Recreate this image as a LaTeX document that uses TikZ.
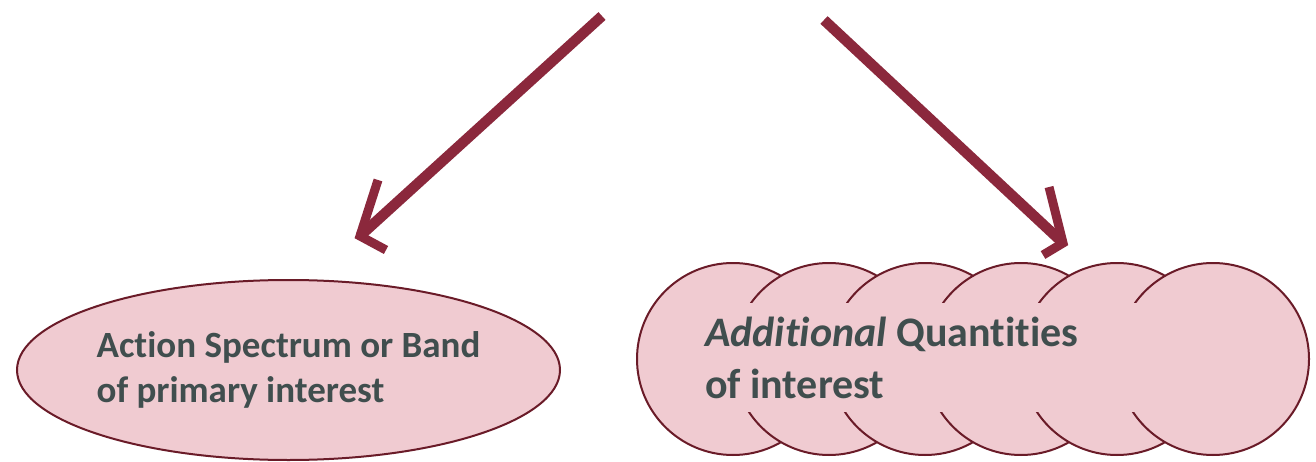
\documentclass[tikz,border=0pt]{standalone}
\usepackage{fontspec}
\setmainfont{Carlito}[Ligatures=NoCommon]
\usetikzlibrary{shapes.geometric}
\definecolor{arrowred}{RGB}{139,40,60}
\definecolor{pinkfill}{RGB}{240,203,209}
\definecolor{darkline}{RGB}{106,27,40}
\definecolor{textgray}{RGB}{64,78,78}
\begin{document}
\begin{tikzpicture}[x=1pt,y=1pt,
  shapeline/.style={draw=darkline, line width=2pt, fill=pinkfill},
  arrowline/.style={draw=arrowred, line width=10.5pt},
  headline/.style={draw=arrowred, line width=9pt, line join=miter, miter limit=10},
  labeltext/.style={text=textgray, align=left}]
\useasboundingbox (0,0) rectangle (1316,461);
% arrows
\coordinate (s1) at (602,445);
\coordinate (t1) at (360,225);
\coordinate (a1) at (378,281);
\coordinate (b1) at (386,211);
\coordinate (s2) at (824,441);
\coordinate (t2) at (1063,218);
\coordinate (a2) at (1049,274);
\coordinate (b2) at (1043,206);
\draw[arrowline] (s1) -- (t1);
\draw[headline] (a1) -- (t1) -- (b1);
\draw[arrowline] (s2) -- (t2);
\draw[headline] (a2) -- (t2) -- (b2);
% left ellipse
\node[ellipse, shapeline, minimum width=543pt, minimum height=180pt, inner sep=0pt, labeltext,
  font=\fontsize{37}{45}\selectfont\bfseries] (e) at (288.5,91) {Action Spectrum or Band\\of primary interest};
% circles
\foreach \i in {0,...,5}
  \node[circle, shapeline, minimum size=192pt, inner sep=0pt] (c\i) at (733+96*\i,102) {};
% cover and text
\node[rectangle, fill=pinkfill, minimum width=560pt, minimum height=109pt, inner xsep=15pt, inner ysep=0pt,
  text width=530pt, text=textgray, align=flush left, font=\fontsize{42}{52}\selectfont\bfseries] (q) at (970,103.5)
  {\textit{Additional} Quantities\\of interest};
\end{tikzpicture}
\end{document}
